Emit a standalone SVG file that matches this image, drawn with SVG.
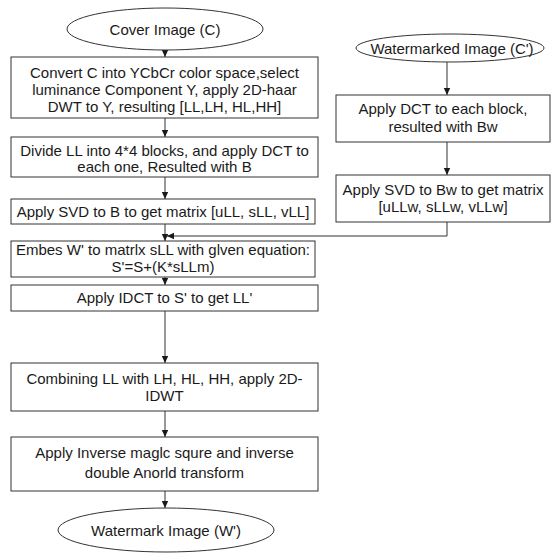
<svg xmlns="http://www.w3.org/2000/svg" width="552" height="555" viewBox="0 0 552 555">
<defs>
<marker id="ah" markerWidth="8" markerHeight="8" refX="7" refY="4" orient="auto" markerUnits="userSpaceOnUse">
<path d="M0,0.8 L7,4 L0,7.2 Z" fill="#1a1a1a"/>
</marker>
<style>
.box{fill:#fff;stroke:#333;stroke-width:1}
.t{font-family:"Liberation Sans",Arial,sans-serif;font-size:15px;fill:#1a1a1a;text-anchor:middle}
.c{fill:none;stroke:#333;stroke-width:1}
</style>
</defs>
<rect width="552" height="555" fill="#fff"/>
<g id="connectors">
<line class="c" x1="165" y1="50" x2="165" y2="57" marker-end="url(#ah)"/>
<line class="c" x1="165" y1="118" x2="165" y2="137" marker-end="url(#ah)"/>
<line class="c" x1="165" y1="177" x2="165" y2="199" marker-end="url(#ah)"/>
<line class="c" x1="165" y1="224" x2="165" y2="241" marker-end="url(#ah)"/>
<polyline class="c" points="447,222 447,236 167,236" marker-end="url(#ah)"/>
<line class="c" x1="165" y1="277" x2="165" y2="285" marker-end="url(#ah)"/>
<line class="c" x1="165" y1="311" x2="165" y2="363" marker-end="url(#ah)"/>
<line class="c" x1="165" y1="411" x2="165" y2="437" marker-end="url(#ah)"/>
<line class="c" x1="165" y1="491" x2="165" y2="508" marker-end="url(#ah)"/>
<line class="c" x1="447" y1="62" x2="447" y2="95" marker-end="url(#ah)"/>
<line class="c" x1="447" y1="142" x2="447" y2="175" marker-end="url(#ah)"/>
</g>
<g id="cover">
<ellipse class="box" cx="165" cy="29" rx="98" ry="21"/>
<text class="t" x="165" y="34.5">Cover Image (C)</text>
</g>
<g id="convert">
<rect class="box" x="11" y="57" width="307" height="61"/>
<text class="t" x="164.5" y="78">Convert C into YCbCr color space,select</text>
<text class="t" x="164.5" y="95">luminance Component Y, apply 2D-haar</text>
<text class="t" x="164.5" y="112">DWT to Y, resulting [LL,LH, HL,HH]</text>
</g>
<g id="divide">
<rect class="box" x="11" y="137" width="307" height="40"/>
<text class="t" x="164.5" y="156">Divide LL into 4*4 blocks, and apply DCT to</text>
<text class="t" x="164.5" y="172">each one, Resulted with B</text>
</g>
<g id="svd">
<rect class="box" x="11" y="199" width="304" height="25"/>
<text class="t" x="163" y="217">Apply SVD to B to get matrix [uLL, sLL, vLL]</text>
</g>
<g id="embed">
<rect class="box" x="11" y="241" width="304" height="36"/>
<text class="t" x="163" y="255">Embes W' to matrlx sLL with glven equation:</text>
<text class="t" x="163" y="272">S'=S+(K*sLLm)</text>
</g>
<g id="idct">
<rect class="box" x="11" y="285" width="307" height="26"/>
<text class="t" x="164.5" y="303">Apply IDCT to S' to get LL'</text>
</g>
<g id="combine">
<rect class="box" x="11" y="363" width="307" height="48"/>
<text class="t" x="164.5" y="384">Combining LL with LH, HL, HH, apply 2D-</text>
<text class="t" x="164.5" y="401">IDWT</text>
</g>
<g id="inverse">
<rect class="box" x="11" y="437" width="307" height="54"/>
<text class="t" x="164.5" y="458">Apply Inverse maglc squre and inverse</text>
<text class="t" x="164.5" y="478">double Anorld transform</text>
</g>
<g id="watermark">
<ellipse class="box" cx="166" cy="530" rx="108" ry="22"/>
<text class="t" x="166" y="535.5">Watermark Image (W')</text>
</g>
<g id="watermarked">
<ellipse class="box" cx="450" cy="48" rx="94" ry="14"/>
<text class="t" x="452" y="53.5">Watermarked Image (C')</text>
</g>
<g id="dct">
<rect class="box" x="336" y="95" width="214" height="47"/>
<text class="t" x="443" y="114">Apply DCT to each block,</text>
<text class="t" x="443" y="132">resulted with Bw</text>
</g>
<g id="svdw">
<rect class="box" x="336" y="175" width="214" height="47"/>
<text class="t" x="443" y="195">Apply SVD to Bw to get matrix</text>
<text class="t" x="443" y="212">[uLLw, sLLw, vLLw]</text>
</g>
</svg>
